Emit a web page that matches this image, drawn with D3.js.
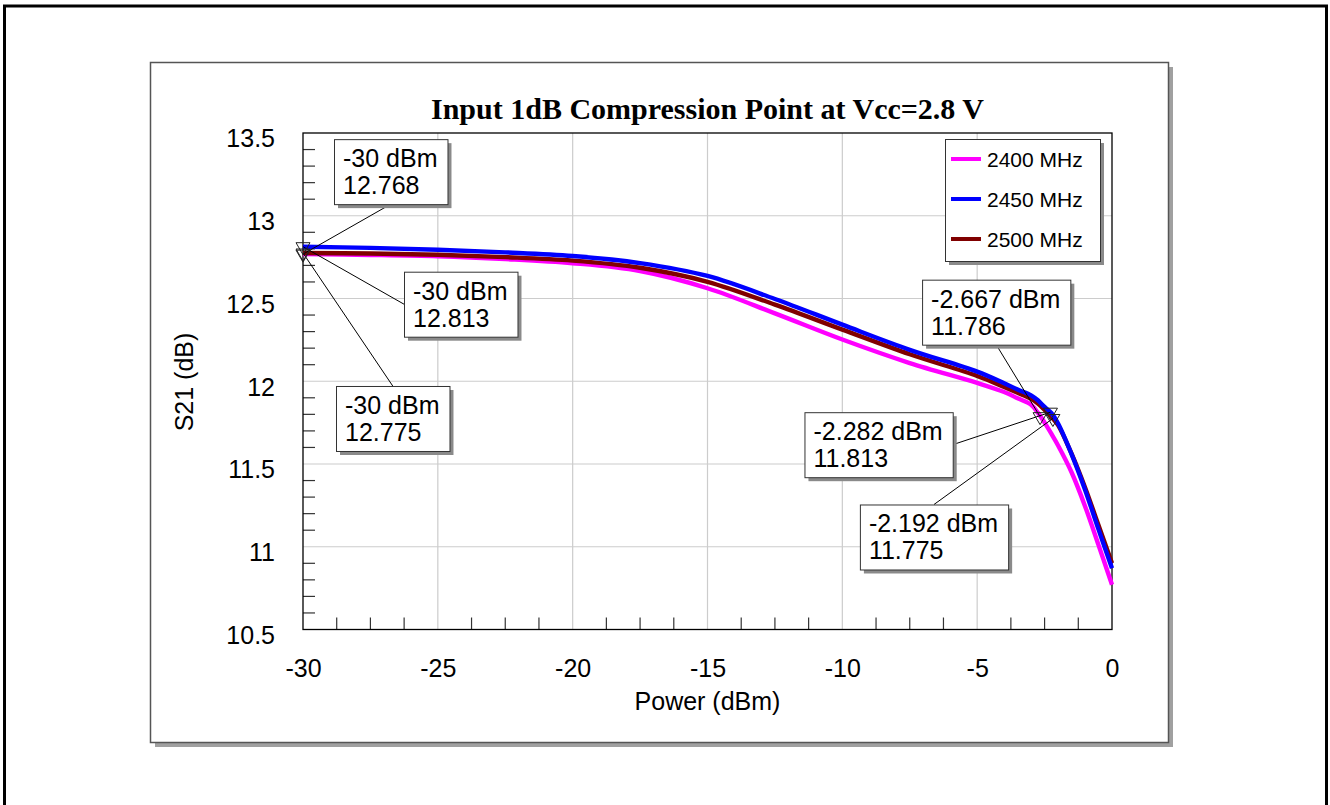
<!DOCTYPE html>
<html>
<head>
<meta charset="utf-8">
<script src="https://cdn.jsdelivr.net/npm/d3@7"></script>
<style>
  html, body { margin: 0; padding: 0; background: #fff; }
  svg { display: block; }
  text { font-family: "Liberation Sans", Arial, sans-serif; fill: #000; }
</style>
</head>
<body>
<svg id="chart" width="1330" height="805"></svg>
<script>
// Input power sweep (dBm)
const power = [-30, -27.5, -25, -22.5, -20, -17.5, -15, -12.5, -10, -7.5, -5, -4, -3.5, -3, -2.75, -2.5, -2.25, -2, -1.5, -1, -0.5, 0];

// S21 gain (dB) per frequency
const s21_2400 = [12.768, 12.763, 12.755, 12.738, 12.713, 12.666, 12.562, 12.410, 12.252, 12.110, 11.990, 11.935, 11.897, 11.858, 11.810, 11.750, 11.683, 11.612, 11.450, 11.245, 11.010, 10.770];
const s21_2450 = [12.813, 12.806, 12.795, 12.779, 12.757, 12.714, 12.636, 12.497, 12.342, 12.190, 12.058, 11.988, 11.950, 11.915, 11.885, 11.845, 11.808, 11.745, 11.560, 11.345, 11.105, 10.870];
const s21_2500 = [12.775, 12.772, 12.764, 12.750, 12.729, 12.686, 12.601, 12.463, 12.312, 12.163, 12.032, 11.965, 11.930, 11.893, 11.865, 11.827, 11.785, 11.735, 11.562, 11.358, 11.130, 10.900];

const seriesNames = ["2400 MHz", "2450 MHz", "2500 MHz"];

// Axis ticks
const xTicks = [-30, -25, -20, -15, -10, -5, 0];
const yTicks = [10.5, 11, 11.5, 12, 12.5, 13, 13.5];

// Marker readouts: power, S21, series index
const markerPower = [-30, -30, -30, -2.667, -2.282, -2.192];
const markerValue = [12.768, 12.813, 12.775, 11.786, 11.813, 11.775];
const markerSeries = [0, 1, 2, 0, 1, 2];

// ---------------------------------------------------------------
const colors = ["#ff00ff", "#0000ff", "#800000"];
const seriesValues = [s21_2400, s21_2450, s21_2500];

const svg = d3.select("#chart");

// Page frame
svg.append("rect")
  .attr("x", 4.5).attr("y", 6).attr("width", 1322).attr("height", 820)
  .attr("fill", "none").attr("stroke", "#000").attr("stroke-width", 3);

// Chart panel with drop shadow
const panel = { x: 150, y: 62, w: 1018, h: 680 };
svg.append("rect")
  .attr("x", panel.x + 5).attr("y", panel.y + 5)
  .attr("width", panel.w).attr("height", panel.h)
  .attr("fill", "#a0a0a0");
svg.append("rect")
  .attr("x", panel.x + 0.5).attr("y", panel.y + 0.5)
  .attr("width", panel.w).attr("height", panel.h)
  .attr("fill", "#fff").attr("stroke", "#555").attr("stroke-width", 1.5);

// Plot area
const plot = { left: 303, top: 133, right: 1112, bottom: 629.5 };
const x = d3.scaleLinear().domain([-30, 0]).range([plot.left, plot.right]);
const y = d3.scaleLinear().domain([10.5, 13.5]).range([plot.bottom, plot.top]);

const g = svg.append("g");

// Grid lines
g.selectAll("line.gx").data(xTicks.slice(1, -1)).enter().append("line")
  .attr("x1", d => x(d)).attr("x2", d => x(d))
  .attr("y1", plot.top).attr("y2", plot.bottom)
  .attr("stroke", "#cccccc").attr("stroke-width", 1.2);
g.selectAll("line.gy").data(yTicks.slice(1, -1)).enter().append("line")
  .attr("x1", plot.left).attr("x2", plot.right)
  .attr("y1", d => y(d)).attr("y2", d => y(d))
  .attr("stroke", "#cccccc").attr("stroke-width", 1.2);

// Minor ticks (inside)
const xMinor = d3.range(0, 25).map(i => -30 + i * 1.25).filter(v => v % 5 !== 0);
const yMinor = d3.range(105, 136).map(i => i / 10).filter(v => Math.round(v * 10) % 5 !== 0);
g.selectAll("line.mx").data(xMinor).enter().append("line")
  .attr("x1", d => x(d)).attr("x2", d => x(d))
  .attr("y1", plot.bottom).attr("y2", plot.bottom - 12)
  .attr("stroke", "#333").attr("stroke-width", 1.2);
g.selectAll("line.my").data(yMinor).enter().append("line")
  .attr("x1", plot.left).attr("x2", plot.left + 12)
  .attr("y1", d => y(d)).attr("y2", d => y(d))
  .attr("stroke", "#333").attr("stroke-width", 1.2);

// Plot frame
g.append("rect")
  .attr("x", plot.left).attr("y", plot.top)
  .attr("width", plot.right - plot.left).attr("height", plot.bottom - plot.top)
  .attr("fill", "none").attr("stroke", "#000").attr("stroke-width", 1.3);

// Axes (labels only)
const xAxis = g.append("g")
  .attr("transform", `translate(0,${plot.bottom})`)
  .call(d3.axisBottom(x).tickValues(xTicks).tickSize(0).tickPadding(30).tickFormat(d => String(d)));
xAxis.select(".domain").remove();
xAxis.selectAll("text").attr("font-size", 25).attr("dy", "0.71em")
  .attr("font-family", "Liberation Sans, Arial, sans-serif").attr("fill", "#000");

const yAxis = g.append("g")
  .attr("transform", `translate(${plot.left},0)`)
  .call(d3.axisLeft(y).tickValues(yTicks).tickSize(0).tickPadding(28).tickFormat(d => String(d)));
yAxis.select(".domain").remove();
yAxis.selectAll("text").attr("font-size", 25).attr("dy", "0.55em")
  .attr("font-family", "Liberation Sans, Arial, sans-serif").attr("fill", "#000");

// Axis titles
svg.append("text")
  .attr("x", (plot.left + plot.right) / 2).attr("y", 710)
  .attr("text-anchor", "middle").attr("font-size", 25)
  .text("Power (dBm)");
svg.append("text")
  .attr("transform", "translate(193,382) rotate(-90)")
  .attr("text-anchor", "middle").attr("font-size", 25)
  .text("S21 (dB)");

// Title
svg.append("text")
  .attr("x", (plot.left + plot.right) / 2).attr("y", 119)
  .attr("text-anchor", "middle")
  .style("font-family", "'Liberation Serif', 'Times New Roman', serif")
  .attr("font-size", 30).attr("font-weight", "bold")
  .text("Input 1dB Compression Point at Vcc=2.8 V");

// Curves
const line = d3.line()
  .x(d => x(d[0])).y(d => y(d[1]))
  .curve(d3.curveCatmullRom.alpha(0.5));
const drawOrder = [0, 2, 1];
drawOrder.forEach(si => {
  g.append("path")
    .datum(power.map((p, i) => [p, seriesValues[si][i]]))
    .attr("d", line)
    .attr("fill", "none")
    .attr("stroke", colors[si])
    .attr("stroke-width", 4.4)
    .attr("stroke-linejoin", "round");
});

// Marker readout boxes: offset of box from marker, and side the leader attaches to
const boxLayout = [
  { dx: 31, dy: -115, side: "bottom" },
  { dx: 101, dy: 25, side: "left" },
  { dx: 33, dy: 133, side: "top" },
  { dx: -118, dy: -137, side: "bottom" },
  { dx: -246, dy: 0, side: "right" },
  { dx: -193, dy: 86, side: "top" }
];

const fmtPower = v => `${v} dBm`;
const markers = markerPower.map((p, i) => ({
  px: x(p), py: y(markerValue[i]),
  l1: fmtPower(p), l2: String(markerValue[i]),
  layout: boxLayout[i]
}));

const annot = svg.append("g");
const boxH = 65;

markers.forEach(m => {
  const t1 = annot.append("text").attr("font-size", 25).text(m.l1);
  const tw1 = t1.node().getComputedTextLength();
  t1.remove();
  const t2 = annot.append("text").attr("font-size", 25).text(m.l2);
  const tw2 = t2.node().getComputedTextLength();
  t2.remove();
  const bw = Math.max(tw1, tw2) + 19;
  const bx = m.px + m.layout.dx, by = m.py + m.layout.dy;
  let ex, ey;
  switch (m.layout.side) {
    case "bottom": ex = bx + bw / 2; ey = by + boxH; break;
    case "top": ex = bx + bw / 2; ey = by; break;
    case "left": ex = bx; ey = by + boxH / 2; break;
    default: ex = bx + bw; ey = by + boxH / 2;
  }
  m.box = { bx, by, bw, ex, ey };
});

// Leader lines
markers.forEach(m => {
  annot.append("line")
    .attr("x1", m.px).attr("y1", m.py)
    .attr("x2", m.box.ex).attr("y2", m.box.ey)
    .attr("stroke", "#000").attr("stroke-width", 1);
});

// Marker triangles
markers.forEach(m => {
  const w = 14, h = 12;
  annot.append("path")
    .attr("d", `M${m.px - w / 2},${m.py - h / 3} L${m.px + w / 2},${m.py - h / 3} L${m.px},${m.py + 2 * h / 3} Z`)
    .attr("fill", "none").attr("stroke", "#222").attr("stroke-width", 1);
});

// Boxes
markers.forEach(m => {
  const b = m.box;
  annot.append("rect")
    .attr("x", b.bx + 4).attr("y", b.by + 4).attr("width", b.bw).attr("height", boxH)
    .attr("fill", "#8a8a8a");
  annot.append("rect")
    .attr("x", b.bx + 0.5).attr("y", b.by + 0.5).attr("width", b.bw).attr("height", boxH)
    .attr("fill", "#fff").attr("stroke", "#333").attr("stroke-width", 1);
  annot.append("text").attr("x", b.bx + 9).attr("y", b.by + 28)
    .attr("font-size", 25).text(m.l1);
  annot.append("text").attr("x", b.bx + 9).attr("y", b.by + 55)
    .attr("font-size", 25).text(m.l2);
});

// Legend
const leg = { x: 945, y: 139, w: 155, h: 122 };
const lg = svg.append("g");
lg.append("rect")
  .attr("x", leg.x + 4).attr("y", leg.y + 4).attr("width", leg.w).attr("height", leg.h)
  .attr("fill", "#8a8a8a");
lg.append("rect")
  .attr("x", leg.x + 0.5).attr("y", leg.y + 0.5).attr("width", leg.w).attr("height", leg.h)
  .attr("fill", "#fff").attr("stroke", "#333").attr("stroke-width", 1);
seriesNames.forEach((name, i) => {
  const ly = leg.y + 20 + i * 40;
  lg.append("line")
    .attr("x1", leg.x + 6).attr("x2", leg.x + 36)
    .attr("y1", ly).attr("y2", ly)
    .attr("stroke", colors[i]).attr("stroke-width", 4);
  lg.append("text")
    .attr("x", leg.x + 42).attr("y", ly + 7.5)
    .attr("font-size", 21).text(name);
});
</script>
</body>
</html>
